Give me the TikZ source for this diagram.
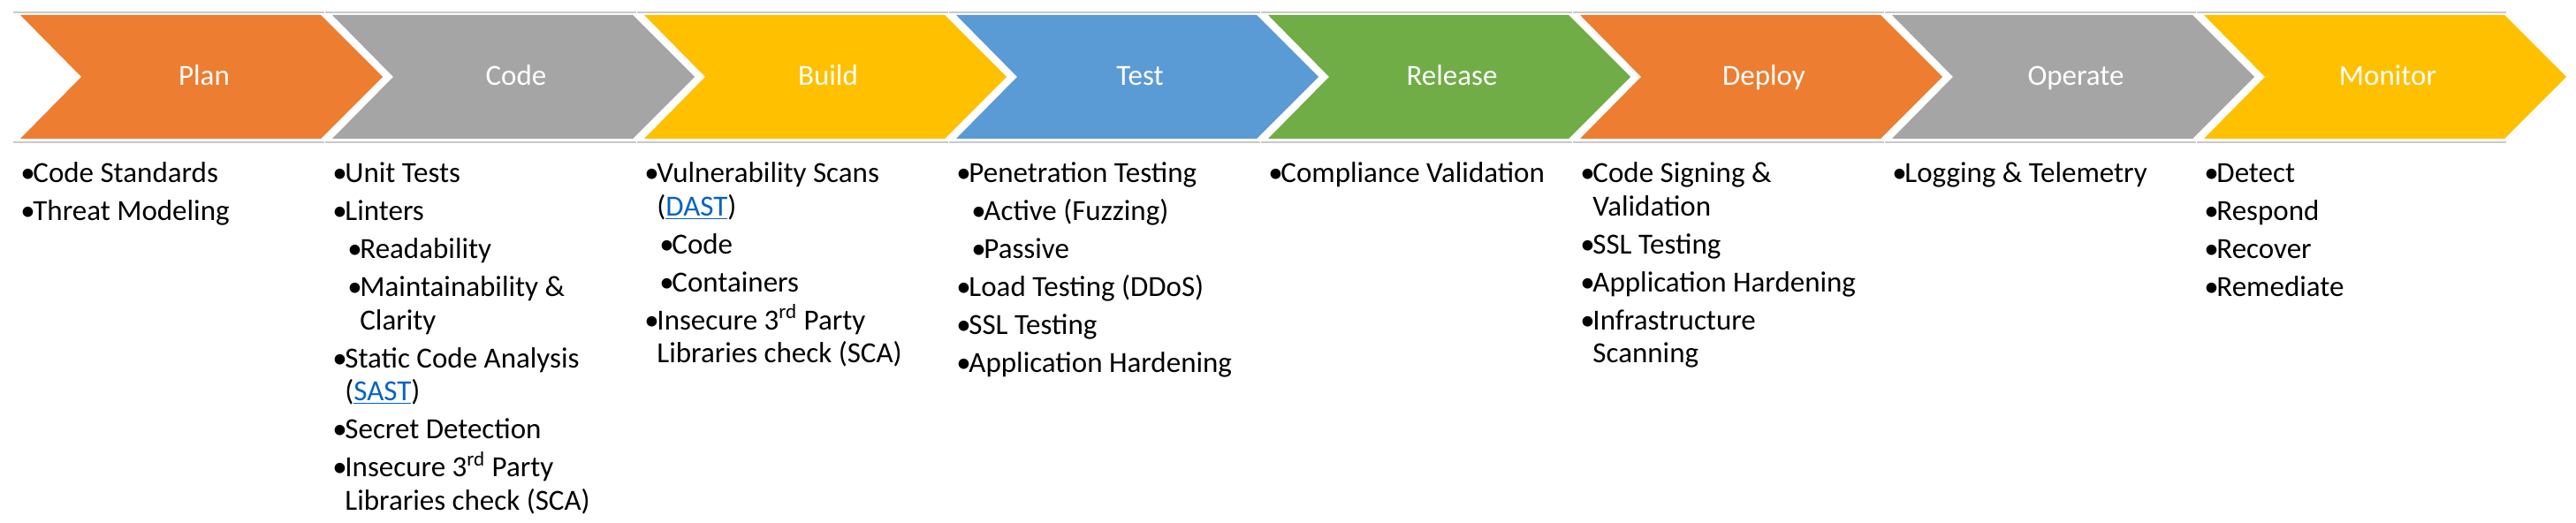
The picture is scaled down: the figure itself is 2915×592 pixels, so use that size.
\documentclass[tikz,border=0pt]{standalone}
\usepackage{fontspec}
\setmainfont{Carlito}
\usepackage{tikz}

\definecolor{orangec}{HTML}{ED7D31}
\definecolor{grayc}{HTML}{A5A5A5}
\definecolor{yellowc}{HTML}{FFC000}
\definecolor{bluec}{HTML}{5B9BD5}
\definecolor{greenc}{HTML}{70AD47}
\definecolor{rulegray}{HTML}{C9C9C9}
\definecolor{linkblue}{HTML}{0563C1}

\newcommand{\bul}{\makebox[7pt][l]{•}}
\newcommand{\subbul}{\hspace*{8.5pt}\makebox[7pt][l]{•}}
\newcommand{\cont}{\hspace*{7pt}}
\newcommand{\subcont}{\hspace*{15.5pt}}
\newcommand{\lnk}[1]{\textcolor{linkblue}{\underline{#1}}}

\begin{document}
\begin{tikzpicture}[x=0.5pt,y=-0.5pt,
    stage/.style={anchor=base,text=white,font=\fontsize{16.5}{18.75}\selectfont},
    items/.style={anchor=north west,align=left,inner sep=0pt,font=\fontsize{16.5}{18.75}\selectfont},
    rule/.style={draw=rulegray,line width=1pt}]
\useasboundingbox (0,0) rectangle (2915,592);

% thin rules above and below the arrows
\draw[rule] (15,14) -- (367,14);     \draw[rule] (15,161) -- (367,161);
\draw[rule] (368,14) -- (720,14);    \draw[rule] (368,161) -- (720,161);
\draw[rule] (721,14) -- (1073,14);   \draw[rule] (721,161) -- (1073,161);
\draw[rule] (1074,14) -- (1426,14);  \draw[rule] (1074,161) -- (1426,161);
\draw[rule] (1427,14) -- (1779,14);  \draw[rule] (1427,161) -- (1779,161);
\draw[rule] (1780,14) -- (2132,14);  \draw[rule] (1780,161) -- (2132,161);
\draw[rule] (2133,14) -- (2485,14);  \draw[rule] (2133,161) -- (2485,161);
\draw[rule] (2486,14) -- (2836,14);  \draw[rule] (2486,161) -- (2836,161);

% chevrons
\fill[orangec] (23,17) -- (363,17) -- (433,87) -- (363,157) -- (23,157) -- (92,87) -- cycle;
\fill[grayc] (376,17) -- (716,17) -- (786,87) -- (716,157) -- (376,157) -- (445,87) -- cycle;
\fill[yellowc] (729,17) -- (1069,17) -- (1139,87) -- (1069,157) -- (729,157) -- (798,87) -- cycle;
\fill[bluec] (1082,17) -- (1422,17) -- (1492,87) -- (1422,157) -- (1082,157) -- (1151,87) -- cycle;
\fill[greenc] (1435,17) -- (1775,17) -- (1845,87) -- (1775,157) -- (1435,157) -- (1504,87) -- cycle;
\fill[orangec] (1788,17) -- (2128,17) -- (2198,87) -- (2128,157) -- (1788,157) -- (1857,87) -- cycle;
\fill[grayc] (2141,17) -- (2481,17) -- (2551,87) -- (2481,157) -- (2141,157) -- (2210,87) -- cycle;
\fill[yellowc] (2494,17) -- (2834,17) -- (2904,87) -- (2834,157) -- (2494,157) -- (2563,87) -- cycle;

\node[stage] (plan) at (231,97) {Plan};
\node[stage] (code) at (584,97) {Code};
\node[stage] (build) at (937,97) {Build};
\node[stage] (test) at (1290,97) {Test};
\node[stage] (release) at (1643,97) {Release};
\node[stage] (deploy) at (1996,97) {Deploy};
\node[stage] (operate) at (2349,97) {Operate};
\node[stage] (monitor) at (2702,97) {Monitor};

% lists under each stage
\node[items] (planlist) at (23,180) {\strut\bul Code Standards\\[2.75pt]
  \bul Threat Modeling};
\node[items] (codelist) at (376,180) {\strut\bul Unit Tests\\[2.75pt]
  \bul Linters\\[2.75pt]
  \subbul Readability\\[2.75pt]
  \subbul Maintainability \&\\
  \subcont Clarity\\[2.75pt]
  \bul Static Code Analysis\\
  \cont(\lnk{SAST})\\[2.75pt]
  \bul Secret Detection\\[2.75pt]
  \bul Insecure 3\textsuperscript{rd} Party\\
  \cont Libraries check (SCA)};
\node[items] (buildlist) at (729,180) {\strut\bul Vulnerability Scans\\
  \cont(\lnk{DAST})\\[2.75pt]
  \subbul Code\\[2.75pt]
  \subbul Containers\\[2.75pt]
  \bul Insecure 3\textsuperscript{rd} Party\\
  \cont Libraries check (SCA)};
\node[items] (testlist) at (1082,180) {\strut\bul Penetration Testing\\[2.75pt]
  \subbul Active (Fuzzing)\\[2.75pt]
  \subbul Passive\\[2.75pt]
  \bul Load Testing (DDoS)\\[2.75pt]
  \bul SSL Testing\\[2.75pt]
  \bul Application Hardening};
\node[items] (releaselist) at (1435,180) {\strut\bul Compliance Validation};
\node[items] (deploylist) at (1788,180) {\strut\bul Code Signing \&\\
  \cont Validation\\[2.75pt]
  \bul SSL Testing\\[2.75pt]
  \bul Application Hardening\\[2.75pt]
  \bul Infrastructure\\
  \cont Scanning};
\node[items] (operatelist) at (2141,180) {\strut\bul Logging \& Telemetry};
\node[items] (monitorlist) at (2494,180) {\strut\bul Detect\\[2.75pt]
  \bul Respond\\[2.75pt]
  \bul Recover\\[2.75pt]
  \bul Remediate};
\end{tikzpicture}
\end{document}
